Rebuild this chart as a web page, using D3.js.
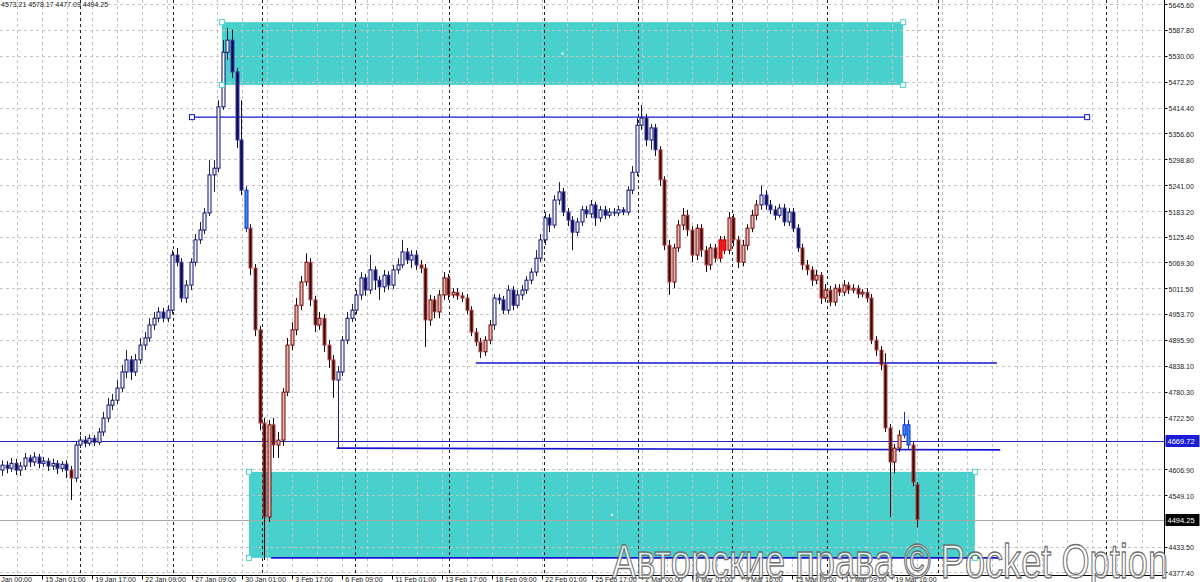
<!DOCTYPE html>
<html><head><meta charset="utf-8">
<script src="https://cdn.jsdelivr.net/npm/d3@7"></script>
<style>body{margin:0;background:#fff;overflow:hidden}svg{display:block}</style>
</head><body><svg id="c" width="1200" height="582"></svg>
<script>
// ---- candle data (price, one bar per slot) ----
const opens=[4605,4616,4609,4620,4605,4614,4632,4623,4634,4620,4625,4614,4620,4609,4618,4605,4587,4661,4672,4665,4676,4667,4690,4721,4750,4761,4788,4824,4851,4824,4851,4884,4900,4929,4944,4958,4944,4962,5085,5069,4989,5018,5069,5119,5141,5179,5264,5279,5416,5538,5565,5494,5342,5230,5145,5056,4918,4710,4500,4706,4661,4672,4779,4884,4918,4973,5025,5069,4985,4929,4944,4884,4851,4806,4824,4895,4944,4962,4996,5034,5007,5052,5029,5014,5040,5018,5052,5063,5092,5074,5085,5063,5056,4940,4985,4958,4996,5034,4996,5002,4994,4989,4962,4913,4891,4869,4895,4929,4989,4985,4962,5007,4973,4996,5007,5029,5047,5078,5119,5168,5152,5208,5226,5181,5163,5136,5159,5186,5177,5197,5168,5186,5174,5181,5179,5186,5181,5230,5270,5375,5391,5342,5369,5320,5253,5107,5025,5101,5152,5174,5141,5085,5145,5096,5063,5101,5078,5119,5096,5168,5119,5069,5107,5145,5174,5197,5219,5197,5186,5174,5190,5159,5181,5145,5101,5063,5052,5029,5040,4989,5007,4980,5011,5002,5018,5007,5011,4998,5002,4989,4895,4873,4840,4699,4623,4654,4683,4706,4661,4573.21];
const highs=[4627,4625,4632,4630,4623,4643,4639,4645,4641,4634,4632,4630,4627,4625,4627,4614,4670,4681,4681,4685,4683,4699,4735,4766,4775,4806,4840,4873,4860,4864,4900,4913,4944,4958,4969,4967,4973,5096,5101,5078,5029,5078,5132,5159,5190,5297,5297,5431,5565,5592,5588,5503,5431,5239,5154,5065,4927,4721,4717,4721,4690,4788,4900,4935,4989,5038,5089,5078,4994,4958,4953,4895,4862,4837,4904,4958,4976,5007,5047,5043,5085,5060,5038,5052,5049,5063,5078,5119,5101,5096,5096,5074,5065,4996,4994,5007,5047,5043,5011,5011,5002,4998,4971,4922,4900,4904,4940,4998,4998,4994,5018,5016,5007,5018,5038,5056,5096,5132,5181,5177,5219,5248,5235,5190,5172,5168,5195,5195,5208,5204,5195,5195,5190,5190,5195,5192,5239,5284,5391,5420,5400,5378,5378,5328,5261,5119,5110,5163,5190,5186,5150,5154,5154,5105,5110,5110,5128,5128,5181,5177,5128,5119,5154,5186,5208,5241,5230,5208,5195,5199,5199,5190,5190,5154,5110,5074,5060,5052,5047,5020,5016,5020,5020,5029,5025,5020,5018,5009,5011,4998,4904,4882,4866,4708,4663,4694,4735,4717,4670,4578.17];
const lows=[4592,4598,4601,4594,4592,4605,4612,4614,4609,4612,4603,4605,4596,4601,4587,4538,4578,4654,4656,4659,4659,4661,4681,4712,4739,4752,4779,4810,4806,4815,4842,4873,4891,4918,4935,4935,4935,4953,5060,4980,4978,5007,5060,5110,5132,5172,5226,5270,5409,5521,5480,5324,5219,5136,5040,4904,4694,4404,4489,4632,4632,4659,4770,4873,4906,4962,5016,4971,4913,4918,4869,4833,4766,4654,4815,4886,4935,4953,4985,4994,4998,5007,4985,5002,5007,5009,5043,5056,5065,5056,5052,5045,4880,4927,4944,4944,4985,4985,4989,4985,4980,4953,4904,4882,4855,4860,4886,4918,4976,4953,4953,4962,4967,4985,4998,5020,5038,5069,5107,5136,5145,5197,5172,5150,5096,5127,5150,5168,5168,5150,5159,5165,5168,5172,5172,5174,5174,5221,5261,5364,5328,5320,5306,5239,5096,4996,5011,5092,5141,5127,5069,5074,5081,5047,5052,5069,5069,5087,5087,5105,5056,5060,5096,5136,5163,5186,5186,5177,5163,5168,5150,5150,5136,5092,5052,5040,5016,5020,4976,4980,4971,4971,4994,4994,4998,5000,4989,4991,4980,4886,4860,4828,4690,4500,4598,4645,4676,4650,4569,4477.09];
const closes=[4616,4609,4620,4605,4614,4632,4623,4634,4620,4625,4614,4620,4609,4618,4605,4587,4661,4672,4665,4676,4667,4690,4721,4750,4761,4788,4824,4851,4824,4851,4884,4900,4929,4944,4958,4944,4962,5085,5069,4989,5018,5069,5119,5141,5179,5264,5279,5416,5538,5565,5494,5342,5230,5145,5056,4918,4710,4500,4706,4661,4672,4779,4884,4918,4973,5025,5069,4985,4929,4944,4884,4851,4806,4824,4895,4944,4962,4996,5034,5007,5052,5029,5014,5040,5018,5052,5063,5092,5074,5085,5063,5056,4940,4985,4958,4996,5034,4996,5002,4994,4989,4962,4913,4891,4869,4895,4929,4989,4985,4962,5007,4973,4996,5007,5029,5047,5078,5119,5168,5152,5208,5226,5181,5163,5136,5159,5186,5177,5197,5168,5186,5174,5181,5179,5186,5181,5230,5270,5375,5391,5342,5369,5320,5253,5107,5025,5101,5152,5174,5141,5085,5145,5096,5063,5101,5078,5119,5096,5168,5119,5069,5107,5145,5174,5197,5219,5197,5186,5174,5190,5159,5181,5145,5101,5063,5052,5029,5040,4989,5007,4980,5011,5002,5018,5007,5011,4998,5002,4989,4895,4873,4840,4699,4623,4654,4683,4706,4661,4578,4494.25];

// colour regimes (bar index ranges) and highlighted bars
const redRanges=[[15,15],[54,72],[91,106],[143,164],[174,199]];
const blueHighlight=[53,196,197];
const redHighlight=[156,157];

// axis ticks
const yTicks=[5645.60,5587.80,5530.00,5472.20,5414.40,5356.60,5298.80,5241.00,5183.20,5125.40,5069.30,5011.50,4953.70,4895.90,4838.10,4780.30,4722.50,4606.90,4549.10,4433.50,4377.40];
const xTickLabels=["8 Jan 00:00","15 Jan 01:00","19 Jan 17:00","22 Jan 09:00","27 Jan 09:00","30 Jan 01:00","3 Feb 17:00","6 Feb 09:00","11 Feb 01:00","13 Feb 17:00","18 Feb 09:00","22 Feb 01:00","25 Feb 17:00","2 Mar 00:00","5 Mar 01:00","9 Mar 16:00","13 Mar 09:00","17 Mar 09:00","19 Mar 16:00"];
const xTickIdx=[-2.11,8.76,19.63,30.50,41.37,52.24,63.11,73.98,84.85,95.72,106.59,117.46,128.33,139.20,150.07,160.93,171.80,182.67,193.54];
const separatorIdx=[16.96,37.17,56.52,76.74,97.17,117.83,138.26,158.70,179.35,203.50,240.0];

// drawn objects (bar index / price)
const zoneStartIdx=[47.8,53.7];
const zoneEndIdx=[195.9,211.5];
const zoneTopPrice=[5605,4601];
const zoneBottomPrice=[5465,4409];
const lineStartIdx=[41.3,103.0,72.8,58.5];
const lineEndIdx=[235.9,216.3,217.0,217.0];
const lineStartPrice=[5393,4844,4654,4409];
const lineEndPrice=[5393,4844,4650,4409];
const currentPrice=4669.72;
const bidPrice=4494.25;
const header="4573.21 4578.17 4477.09 4494.25";
const watermark="Авторские права © Pocket Option";

// ---- drawing ----
const svg=d3.select('#c');
const axisX=1164.5, axisY=575.5;
const x=d3.scaleLinear().domain([0,199]).range([2,917.4]);
const y=d3.scaleLinear().domain([4377.4,5645.6]).range([572,4]);
const font='"Liberation Sans", Arial, sans-serif';

svg.append('rect').attr('width',1200).attr('height',582).attr('fill','#fff');
const plot=svg.append('g');
plot.append('clipPath').attr('id','pc').append('rect').attr('x',0).attr('y',0).attr('width',axisX).attr('height',axisY);
const g=plot.append('g').attr('clip-path','url(#pc)');

// zones
const zoneData=zoneStartIdx.map((s,k)=>({s,e:zoneEndIdx[k],t:zoneTopPrice[k],b:zoneBottomPrice[k]}));
g.selectAll('rect.zone').data(zoneData).join('rect').attr('class','zone')
 .attr('x',d=>x(d.s)).attr('y',d=>y(d.t)).attr('width',d=>x(d.e)-x(d.s)).attr('height',d=>y(d.b)-y(d.t))
 .attr('fill','#48d1cc');

// grid
const gridIdx=d3.range(xTickIdx[0],260,(xTickIdx[1]-xTickIdx[0])/2);
g.selectAll('line.vg').data(gridIdx).join('line').attr('class','vg')
 .attr('x1',d=>Math.round(x(d))+0.5).attr('x2',d=>Math.round(x(d))+0.5).attr('y1',0).attr('y2',axisY)
 .attr('stroke','#c4c4c4').attr('stroke-dasharray','3,3');
g.selectAll('line.hg').data(yTicks).join('line').attr('class','hg')
 .attr('x1',0).attr('x2',axisX).attr('y1',d=>Math.round(y(d))+0.5).attr('y2',d=>Math.round(y(d))+0.5)
 .attr('stroke','#c4c4c4').attr('stroke-dasharray','3,3');
g.selectAll('line.sep').data(separatorIdx).join('line').attr('class','sep')
 .attr('x1',d=>Math.round(x(d))+0.5).attr('x2',d=>Math.round(x(d))+0.5).attr('y1',0).attr('y2',axisY)
 .attr('stroke','#202020').attr('stroke-dasharray','3,3');

// bid line
g.append('line').attr('x1',0).attr('x2',axisX).attr('y1',Math.round(y(bidPrice))+0.5).attr('y2',Math.round(y(bidPrice))+0.5)
 .attr('stroke','#a8a8a8').attr('stroke-width',1);

// trend / level lines
const lineData=lineStartIdx.map((s,k)=>({s,e:lineEndIdx[k],p0:lineStartPrice[k],p1:lineEndPrice[k]}));
g.selectAll('line.lvl').data(lineData).join('line').attr('class','lvl')
 .attr('x1',d=>x(d.s)).attr('x2',d=>x(d.e)).attr('y1',d=>y(d.p0)).attr('y2',d=>y(d.p1))
 .attr('stroke','#1414d2').attr('stroke-width',(d,k)=>k===0?1.3:1.6);

// current price line
g.append('line').attr('x1',0).attr('x2',axisX).attr('y1',Math.round(y(currentPrice))+0.5).attr('y2',Math.round(y(currentPrice))+0.5)
 .attr('stroke','#2222b8').attr('stroke-width',1);

// candles
const bars=d3.range(opens.length).map(i=>({i,o:opens[i],h:highs[i],l:lows[i],c:closes[i]}));
const inRed=i=>redRanges.some(([a,b])=>i>=a&&i<=b);
function style(d){
  const up=d.c>=d.o;
  if(blueHighlight.includes(d.i)) return {fill:'#3a8cff',stroke:'#1030c8',wick:'#1030c8'};
  if(redHighlight.includes(d.i)) return {fill:'#ff1a1a',stroke:'#c00000',wick:'#400000'};
  if(inRed(d.i)) return up?{fill:'#eeb0a8',stroke:'#6a0c0c',wick:'#2a0000'}:{fill:'#3c0606',stroke:'#b04848',wick:'#1a0000'};
  return up?{fill:'#f2f4ff',stroke:'#10106e',wick:'#202040'}:{fill:'#0a0a4a',stroke:'#3a3aa8',wick:'#101030'};
}
const cg=g.append('g');
cg.selectAll('line.wick').data(bars).join('line').attr('class','wick')
 .attr('x1',d=>Math.round(x(d.i))+0.5).attr('x2',d=>Math.round(x(d.i))+0.5)
 .attr('y1',d=>y(d.h)).attr('y2',d=>y(d.l)).attr('stroke',d=>style(d).wick).attr('stroke-width',1);
cg.selectAll('rect.body').data(bars).join('rect').attr('class','body')
 .attr('x',d=>Math.round(x(d.i))-1).attr('width',3)
 .attr('y',d=>y(Math.max(d.o,d.c))).attr('height',d=>Math.max(1,Math.abs(y(d.o)-y(d.c))))
 .attr('fill',d=>style(d).fill).attr('stroke',d=>style(d).stroke).attr('stroke-width',1);

// handles
const zoneHandles=zoneData.flatMap(d=>[[d.s,d.t],[d.e,d.t],[d.s,d.b],[d.e,d.b]]);
g.selectAll('rect.zh').data(zoneHandles).join('rect').attr('class','zh')
 .attr('x',d=>x(d[0])-2.5).attr('y',d=>y(d[1])-2.5).attr('width',5).attr('height',5)
 .attr('fill','#fff').attr('stroke','#48d1cc').attr('stroke-width',1);
g.selectAll('rect.zc').data(zoneData).join('rect').attr('class','zc')
 .attr('x',d=>x((d.s+d.e)/2)-1).attr('y',d=>y((d.t+d.b)/2)-1).attr('width',2).attr('height',2).attr('fill','#fff');
const lh=[[lineData[0].s,lineData[0].p0],[lineData[0].e,lineData[0].p1]];
g.selectAll('rect.lh').data(lh).join('rect').attr('class','lh')
 .attr('x',d=>x(d[0])-2.5).attr('y',d=>y(d[1])-2.5).attr('width',5).attr('height',5)
 .attr('fill','#fff').attr('stroke','#1414d2').attr('stroke-width',1);

// axes
svg.append('line').attr('x1',axisX).attr('x2',axisX).attr('y1',0).attr('y2',axisY).attr('stroke','#000');
svg.append('line').attr('x1',0).attr('x2',axisX).attr('y1',axisY).attr('y2',axisY).attr('stroke','#000');
svg.selectAll('line.yt').data(yTicks).join('line').attr('class','yt')
 .attr('x1',axisX).attr('x2',axisX+3).attr('y1',d=>Math.round(y(d))+0.5).attr('y2',d=>Math.round(y(d))+0.5).attr('stroke','#000');
svg.selectAll('text.yl').data(yTicks).join('text').attr('class','yl')
 .attr('x',axisX+4).attr('y',d=>y(d)+3.5).text(d=>d.toFixed(2))
 .attr('font-family',font).attr('font-size',7).attr('fill','#202020');
svg.selectAll('line.xt').data(xTickIdx).join('line').attr('class','xt')
 .attr('x1',d=>Math.round(x(d))+0.5).attr('x2',d=>Math.round(x(d))+0.5).attr('y1',axisY).attr('y2',axisY+4).attr('stroke','#000');
svg.selectAll('text.xl').data(xTickLabels).join('text').attr('class','xl')
 .attr('x',(d,k)=>x(xTickIdx[k])+3).attr('y',582).text(d=>d)
 .attr('font-family',font).attr('font-size',7).attr('fill','#202020');

// price labels
function priceTag(p,bg){
  const yy=Math.round(y(p));
  svg.append('rect').attr('x',axisX+1).attr('y',yy-6).attr('width',34).attr('height',12).attr('fill',bg);
  svg.append('text').attr('x',axisX+3).attr('y',yy+3).text(p.toFixed(2))
   .attr('font-family',font).attr('font-size',7.5).attr('fill','#fff');
}
priceTag(currentPrice,'#1c1cd8');
priceTag(bidPrice,'#000');

// header
svg.append('text').attr('x',1).attr('y',7).text(header).attr('font-family',font).attr('font-size',7).attr('fill','#202020');

// watermark
svg.append('text').attr('x',612).attr('y',578).text(watermark)
 .attr('font-family',font).attr('font-size',48).attr('textLength',556).attr('lengthAdjust','spacingAndGlyphs')
 .attr('fill','#ffffff').attr('fill-opacity',0.75).attr('stroke','#707070').attr('stroke-width',1.3);
</script></body></html>
